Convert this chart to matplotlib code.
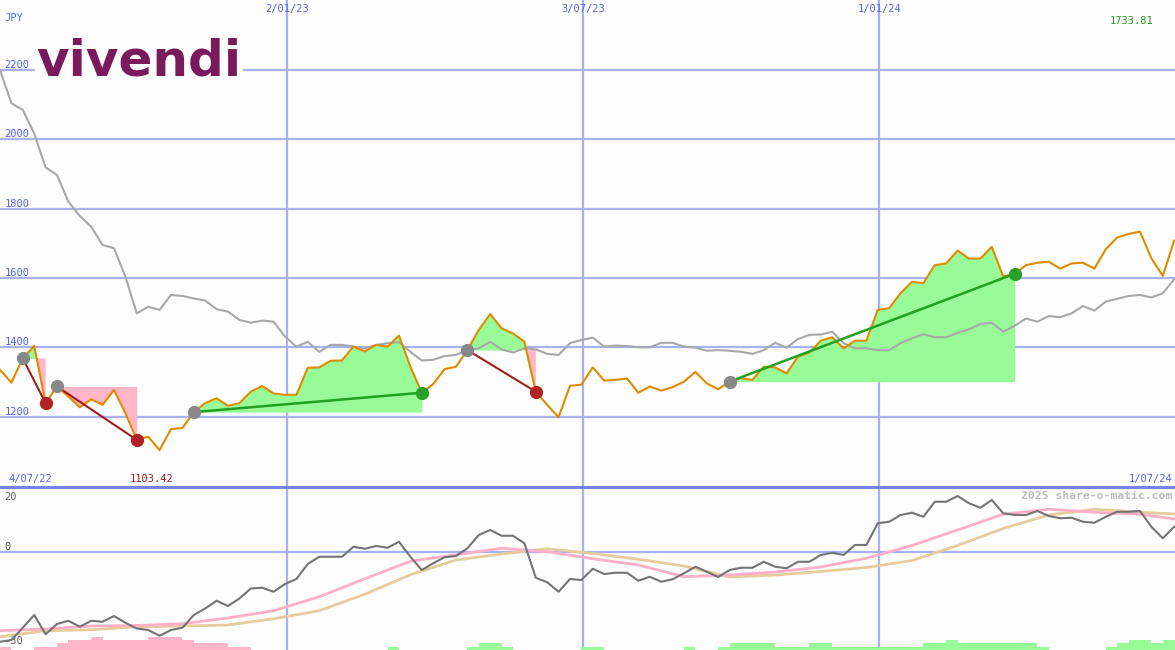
import numpy as np
import pandas as pd
import matplotlib
matplotlib.use('Agg')
import matplotlib.pyplot as plt
import matplotlib.dates as mdates
from matplotlib.transforms import offset_copy

# weekly closes, JPY
dates = pd.date_range('2022-07-10', periods=104, freq='7D')
price = [1335, 1298, 1368, 1404, 1239, 1287, 1258, 1227, 1250, 1234,
         1277, 1210, 1133, 1142, 1103.42, 1164, 1167, 1213, 1239, 1253,
         1231, 1239, 1272, 1288, 1267, 1263, 1263, 1341, 1342, 1361,
         1362, 1402, 1388, 1407, 1402, 1434, 1344, 1269, 1294, 1337,
         1344, 1392, 1450, 1496, 1455, 1440, 1416, 1272, 1234, 1198,
         1289, 1292, 1342, 1304, 1306, 1310, 1269, 1287, 1275, 1285,
         1301, 1329, 1296, 1279, 1301, 1311, 1306, 1344, 1342, 1325,
         1373, 1385, 1419, 1429, 1397, 1419, 1419, 1508, 1513, 1556,
         1589, 1585, 1637, 1642, 1679, 1656, 1656, 1690, 1604, 1612,
         1637, 1644, 1647, 1627, 1642, 1644, 1627, 1683, 1717, 1727,
         1733.81, 1657, 1606, 1708]
# comparison index (rebased)
bench = [2200, 2104, 2085, 2017, 1919, 1897, 1820, 1779, 1748, 1695,
         1686, 1604, 1498, 1517, 1508, 1551, 1548, 1541, 1535, 1510,
         1503, 1479, 1471, 1477, 1474, 1431, 1402, 1416, 1387, 1407,
         1407, 1402, 1397, 1407, 1412, 1415, 1387, 1362, 1364, 1375,
         1378, 1392, 1397, 1416, 1394, 1385, 1397, 1394, 1381, 1378,
         1412, 1421, 1428, 1402, 1405, 1404, 1400, 1400, 1413, 1413,
         1402, 1399, 1390, 1392, 1390, 1387, 1381, 1392, 1413, 1399,
         1424, 1436, 1437, 1445, 1412, 1397, 1397, 1392, 1392, 1412,
         1426, 1438, 1429, 1429, 1442, 1452, 1467, 1471, 1445, 1462,
         1483, 1474, 1490, 1487, 1498, 1519, 1506, 1532, 1540, 1548,
         1551, 1544, 1556, 1596]
# lower panel
momentum = [-36.0, -35.3, -30.4, -25.3, -33.0, -28.9, -27.6, -30.0, -27.6, -28.0,
            -25.7, -28.4, -30.7, -31.3, -33.6, -31.3, -30.4, -25.3, -22.7, -19.6,
            -21.7, -18.7, -14.7, -14.4, -16.0, -12.9, -10.9, -4.9, -2.0, -2.0,
            -2.0, 2.0, 1.2, 2.3, 1.6, 4.0, -2.0, -7.3, -4.6, -2.2,
            -1.7, 1.4, 6.7, 8.7, 6.4, 6.4, 3.4, -10.4, -12.2, -16.0,
            -10.9, -11.3, -6.8, -8.9, -8.4, -8.4, -11.6, -10.0, -12.0, -11.0,
            -8.6, -6.0, -8.0, -10.1, -7.3, -6.4, -6.4, -4.0, -6.0, -6.6,
            -4.0, -4.0, -1.3, -0.4, -1.3, 2.7, 2.7, 11.4, 12.0, 14.7,
            15.6, 14.0, 20.0, 20.0, 22.3, 19.4, 17.6, 20.7, 15.4, 14.7,
            14.7, 16.3, 14.3, 13.4, 13.6, 12.0, 11.6, 14.0, 16.0, 16.0,
            16.3, 10.0, 5.4, 10.0]
ma_idx = list(range(0, 104, 4)) + [103]
ma_fast = [-31.6, -30.9, -29.7, -29.5, -28.8, -26.5, -23.6, -18.0, -10.8, -3.8,
           -1.2, 1.4, 0.0, -2.8, -5.3, -10.0, -9.3, -8.1, -6.1, -2.6,
           2.5, 8.7, 15.0, 17.0, 15.8, 15.0, 13.1]
ma_slow = [-34.0, -31.6, -31.2, -30.0, -29.7, -29.3, -26.8, -23.6, -17.0, -9.2,
           -3.3, -0.9, 1.2, -0.7, -3.0, -5.7, -10.1, -9.3, -7.9, -6.3,
           -3.5, 2.5, 9.3, 14.7, 17.0, 15.8, 15.1]
bars = [-1, 0, 0, -1, -1, -2, -3, -3, -4, -3,
        -3, -3, -3, -4, -4, -4, -3, -2, -2, -2,
        -1, -1, 0, 0, 0, 0, 0, 0, 0, 0,
        0, 0, 0, 0, 1, 0, 0, 0, 0, 0,
        0, 1, 2, 2, 1, 0, 0, 0, 0, 0,
        0, 1, 1, 0, 0, 0, 0, 0, 0, 0,
        1, 0, 0, 1, 2, 2, 2, 2, 1, 1,
        1, 2, 2, 1, 1, 1, 1, 1, 1, 1,
        1, 2, 2, 3, 2, 2, 2, 2, 2, 2,
        2, 1, 0, 0, 0, 0, 0, 1, 2, 3,
        3, 2, 3, 3]
# (entry week, exit week)
trades = [(2, 4), (5, 12), (17, 37), (41, 47), (64, 89)]
grid_dates = ['2023-01-02', '2023-07-03', '2024-01-01']
grid_labels = ['2/01/23', '3/07/23', '1/01/24']
price_ticks = [1200, 1400, 1600, 1800, 2000, 2200]
mom_ticks = [20, 0]

BG = '#fcfdfc'
GRID = '#a8b2f2'
SEP = '#7682e6'
BLUE = '#5563ee'
MONO = 'DejaVu Sans Mono'

x = mdates.date2num(dates)
xlim = (x[0], x[0] + 721.5)
gx = mdates.date2num(pd.to_datetime(grid_dates))

fig = plt.figure(figsize=(11.75, 6.5), dpi=100, facecolor=BG)
ax = fig.add_axes([0, 163 / 650, 1, 487 / 650], facecolor=BG)
ax2 = fig.add_axes([0, 0, 1, 163 / 650], facecolor=BG)

# ---- price panel
ax.set_xlim(xlim)
ax.set_ylim(997, 2402)
for t in price_ticks:
    ax.axhline(t, color=GRID, lw=1.6, zorder=1)
    ax.text(0.004, t, str(t), transform=offset_copy(ax.get_yaxis_transform(), fig=fig, y=2, units='dots'),
            fontsize=7.5, family=MONO, color=BLUE, va='baseline', ha='left')
for g, lab in zip(gx, grid_labels):
    ax.axvline(g, color=GRID, lw=1.6, zorder=1)
    ax.text(g, 1 - 9 / 487, lab, transform=ax.get_xaxis_transform(), fontsize=7.5,
            family=MONO, color=BLUE, ha='center', va='center')

p = np.array(price)
for a, b in trades:
    xs = x[a:b + 1]
    ps = p[a:b + 1]
    lvl = p[a]
    ax.fill_between(xs, ps, lvl, where=ps >= lvl, interpolate=True, color='#98fb98', lw=0, zorder=2)
    ax.fill_between(xs, ps, lvl, where=ps <= lvl, interpolate=True, color='#ffb6c8', lw=0, zorder=2)

ax.plot(x, bench, color='#a8a8a8', lw=1.5, zorder=3)
ax.plot(x, price, color='#dd8c00', lw=1.5, zorder=4)

for a, b in trades:
    win = p[b] > p[a]
    ax.plot([x[a], x[b]], [p[a], p[b]], color='#22a022' if win else '#a31c1c',
            lw=1.8 if win else 1.5, zorder=5)
    ax.plot(x[a], p[a], 'o', color='#888888', ms=8.5, zorder=6)
    ax.plot(x[b], p[b], 'o', color='#2a9f2a' if win else '#b22222', ms=8.5, zorder=6)

ax.text(0.004, 1 - 18 / 487, 'JPY', transform=ax.transAxes, fontsize=7.5, family=MONO,
        color=BLUE, ha='left', va='center')
imax = int(np.argmax(p))
imin = int(np.argmin(p))
ax.text(x[imax] - 5, 1 - 21 / 487, '%.2f' % p[imax], transform=ax.get_xaxis_transform(),
        fontsize=7.5, family=MONO, color='#1f9a1f', ha='center', va='center')
ax.text(x[imin] - 5, 8 / 487, '%.2f' % p[imin], transform=ax.get_xaxis_transform(),
        fontsize=7.5, family=MONO, color='#a01c1c', ha='center', va='center')
ax.text(8 / 1175, 8 / 487, '4/07/22', transform=ax.transAxes, fontsize=7.5, family=MONO,
        color=BLUE, ha='left', va='center')
ax.text(1 - 3 / 1175, 8 / 487, '1/07/24', transform=ax.transAxes, fontsize=7.5, family=MONO,
        color=BLUE, ha='right', va='center')

for s in ax.spines.values():
    s.set_visible(False)
ax.set_xticks([])
ax.set_yticks([])

# ---- lower panel
ax2.set_xlim(xlim)
ax2.set_ylim(-39.3, 25.9)
ax2.axhline(0, color=GRID, lw=1.6, zorder=1)
for g in gx:
    ax2.axvline(g, color=GRID, lw=1.6, zorder=1)
for t in mom_ticks:
    ax2.text(0.004, t, str(t), transform=offset_copy(ax2.get_yaxis_transform(), fig=fig, y=2, units='dots'),
             fontsize=7.5, family=MONO, color='#606060', va='baseline', ha='left')
ax2.text(0.004, 9 / 163, '-30', transform=ax2.transAxes, fontsize=7.5, family=MONO,
         color='#606060', va='center', ha='left')
xm = x[ma_idx]
ax2.plot(xm, ma_slow, color='#e6cc9c', lw=2, zorder=3)
ax2.plot(xm, ma_fast, color='#ffb0c8', lw=2, zorder=3)
ax2.plot(x, momentum, color='#747474', lw=1.5, zorder=4)
ax2.text(1 - 3 / 1175, 1 - 9 / 163, '2025 share-o-matic.com', transform=ax2.transAxes,
         fontsize=8.2, family=MONO, fontweight='bold', color='#bcbcbc', ha='right', va='center')
for s in ax2.spines.values():
    s.set_visible(False)
ax2.set_xticks([])
ax2.set_yticks([])

ax3 = ax2.twinx()
ax3.set_ylim(0, 163 / 3.3)
bv = np.array(bars)
ax3.bar(x, np.abs(bv), width=7, align='edge', bottom=0,
        color=np.where(bv < 0, '#ffb6c8', '#98fb98'), lw=0, zorder=2)
ax3.set_xlim(xlim)
ax3.axis('off')

fig.add_artist(plt.Line2D([0, 1], [163 / 650, 163 / 650], transform=fig.transFigure, color=SEP, lw=2.2))

fig.text(36 / 1175, 1 - 75 / 650, 'vivendi', fontsize=36, fontweight='bold', color='#7a1a5c',
         family='DejaVu Sans', ha='left', va='baseline',
         bbox=dict(facecolor=BG, edgecolor='none', pad=1))

fig.savefig('out.png', dpi=100, facecolor=BG)
